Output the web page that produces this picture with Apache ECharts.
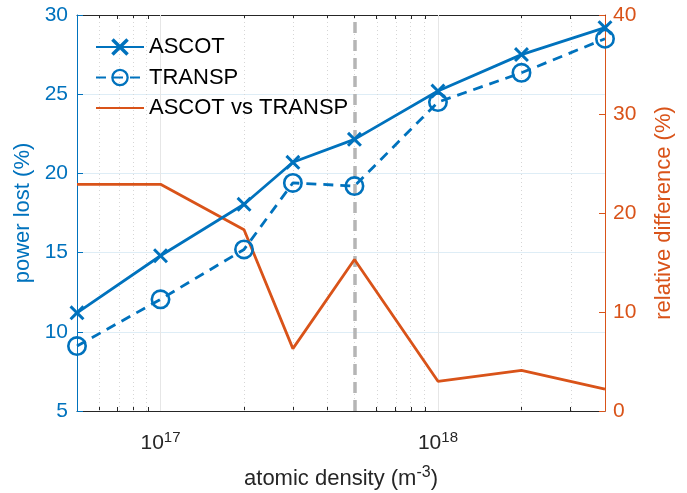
<!DOCTYPE html>
<html>
<head>
<meta charset="utf-8">
<script src="https://cdn.jsdelivr.net/npm/echarts@6/dist/echarts.min.js"></script>
<style>
  html, body { margin: 0; padding: 0; background: #fff; }
  #chart { width: 687px; height: 493px; }
</style>
</head>
<body>
<div id="chart"></div>
<script>
  // atomic density (m^-3)
  var density = [5e16, 1e17, 2e17, 3e17, 5e17, 1e18, 2e18, 4e18]
  // power lost (%)
  var ascot = [11.2, 14.8, 18.05, 20.7, 22.15, 25.2, 27.5, 29.2]
  var transp = [9.1, 12.05, 15.2, 19.4, 19.2, 24.5, 26.35, 28.5]
  // relative difference (%)
  var relDiff = [22.9, 22.9, 18.3, 6.3, 15.3, 3.0, 4.1, 2.2]

  var xMin = 5e16
  var xMax = 4e18
  var majorTicks = [1e17, 1e18]
  var minorTicks = [6e16, 7e16, 8e16, 9e16, 2e17, 3e17, 4e17, 5e17, 6e17, 7e17, 8e17, 9e17, 2e18, 3e18]
  var refDensity = 5e17

  var BLUE = '#0072BD'
  var ORANGE = '#D95319'
  var FONT = 'Liberation Sans'

  var lg = Math.log10
  function pts(ys) {
    return density.map(function(d, i) { return [lg(d), ys[i]] })
  }

  var crossPath = 'path://M0,1.4L1.4,0L5,3.6L8.6,0L10,1.4L6.4,5L10,8.6L8.6,10L5,6.4L1.4,10L0,8.6L3.6,5Z'
  var ringPath = 'path://M10,0A10,10 0 1,1 10,20A10,10 0 1,1 10,0Z M10,2.6A7.4,7.4 0 1,0 10,17.4A7.4,7.4 0 1,0 10,2.6Z'

  function xAxisBase(pos, values, len, showLine) {
    return {
      type: 'value',
      position: pos,
      min: lg(xMin),
      max: lg(xMax),
      axisLine: { show: showLine, onZero: false, lineStyle: { color: '#262626', width: 1 } },
      axisTick: { show: true, inside: true, length: len, customValues: values.map(lg), lineStyle: { color: '#262626', width: 1 } },
      axisLabel: { show: false },
      splitLine: { show: false }
    }
  }

  var xBottom = xAxisBase('bottom', majorTicks, 7, true)
  xBottom.axisLabel = {
    show: true,
    customValues: majorTicks.map(lg),
    margin: 19,
    formatter: function(v) { return '{a|10}{b|' + Math.round(v) + '}' },
    rich: {
      a: { fontSize: 21, fontFamily: FONT, color: '#262626' },
      b: { fontSize: 15, fontFamily: FONT, color: '#262626', padding: [0, 0, 12, 0] }
    }
  }
  xBottom.name = '{a|atomic density (m}{b|-3}{a|)}'
  xBottom.nameLocation = 'middle'
  xBottom.nameGap = 54
  xBottom.nameTextStyle = {
    rich: {
      a: { fontSize: 22, fontFamily: FONT, color: '#262626' },
      b: { fontSize: 16, fontFamily: FONT, color: '#262626', padding: [0, 0, 12, 0] }
    }
  }

  var gridLines = []
  majorTicks.forEach(function(v) {
    gridLines.push({ xAxis: lg(v), lineStyle: { color: '#e6e6e6', width: 1, type: 'solid' } })
  })
  minorTicks.forEach(function(v) {
    gridLines.push({ xAxis: lg(v), lineStyle: { color: '#d6d6d6', width: 1, type: [1, 3] } })
  })
  gridLines.push({ xAxis: lg(refDensity), lineStyle: { color: '#b5b5b5', width: 3.5, type: [11, 7] } })

  var chart = echarts.init(document.getElementById('chart'))
  chart.setOption({
    animation: false,
    textStyle: { fontFamily: FONT },
    grid: { left: 77, right: 82, top: 15, bottom: 82, outerBoundsMode: 'none', containLabel: false },
    legend: {
      data: ['ASCOT', 'TRANSP', { name: 'ASCOT vs TRANSP', itemStyle: { opacity: 0 } }],
      orient: 'vertical',
      left: 95,
      top: 36,
      padding: 0,
      itemWidth: 48,
      itemHeight: 22,
      itemGap: 8.5,
      textStyle: { fontSize: 22, color: '#000', fontFamily: FONT, lineHeight: 22 }
    },
    xAxis: [
      xBottom,
      xAxisBase('bottom', minorTicks, 4, false),
      xAxisBase('top', majorTicks, 7, true),
      xAxisBase('top', minorTicks, 4, false)
    ],
    yAxis: [{
      type: 'value',
      position: 'left',
      min: 5,
      max: 30,
      interval: 5,
      name: 'power lost (%)',
      nameLocation: 'middle',
      nameGap: 39,
      nameTextStyle: { fontSize: 22, color: BLUE, fontFamily: FONT },
      axisLine: { show: true, lineStyle: { color: BLUE, width: 1 } },
      axisTick: { show: true, inside: true, length: 6, lineStyle: { color: BLUE } },
      axisLabel: { fontSize: 21, color: BLUE, margin: 9, fontFamily: FONT },
      splitLine: { show: true, lineStyle: { color: 'rgba(0,114,189,0.13)', width: 1 } }
    }, {
      type: 'value',
      position: 'right',
      min: 0,
      max: 40,
      interval: 10,
      name: 'relative difference (%)',
      nameLocation: 'middle',
      nameGap: 48,
      nameTextStyle: { fontSize: 22, color: ORANGE, fontFamily: FONT },
      axisLine: { show: true, lineStyle: { color: ORANGE, width: 1 } },
      axisTick: { show: true, inside: true, length: 6, lineStyle: { color: ORANGE } },
      axisLabel: { fontSize: 21, color: ORANGE, margin: 8, fontFamily: FONT },
      splitLine: { show: false }
    }],
    series: [
      {
        name: 'grid',
        type: 'line',
        data: [],
        silent: true,
        z: 1,
        markLine: { silent: true, symbol: 'none', z: 1, label: { show: false }, data: gridLines }
      },
      {
        name: 'ASCOT',
        type: 'line',
        z: 4,
        data: pts(ascot),
        symbol: crossPath,
        symbolSize: 15,
        itemStyle: { color: BLUE },
        lineStyle: { color: BLUE, width: 2.8 }
      },
      {
        name: 'TRANSP',
        type: 'line',
        z: 4,
        data: pts(transp),
        symbol: ringPath,
        symbolSize: 20,
        itemStyle: { color: BLUE },
        lineStyle: { color: BLUE, width: 2.8, type: [10, 7] }
      },
      {
        name: 'ASCOT vs TRANSP',
        type: 'line',
        z: 3,
        yAxisIndex: 1,
        data: pts(relDiff),
        symbol: 'none',
        itemStyle: { color: ORANGE },
        lineStyle: { color: ORANGE, width: 2.8 }
      }
    ]
  })
</script>
</body>
</html>
